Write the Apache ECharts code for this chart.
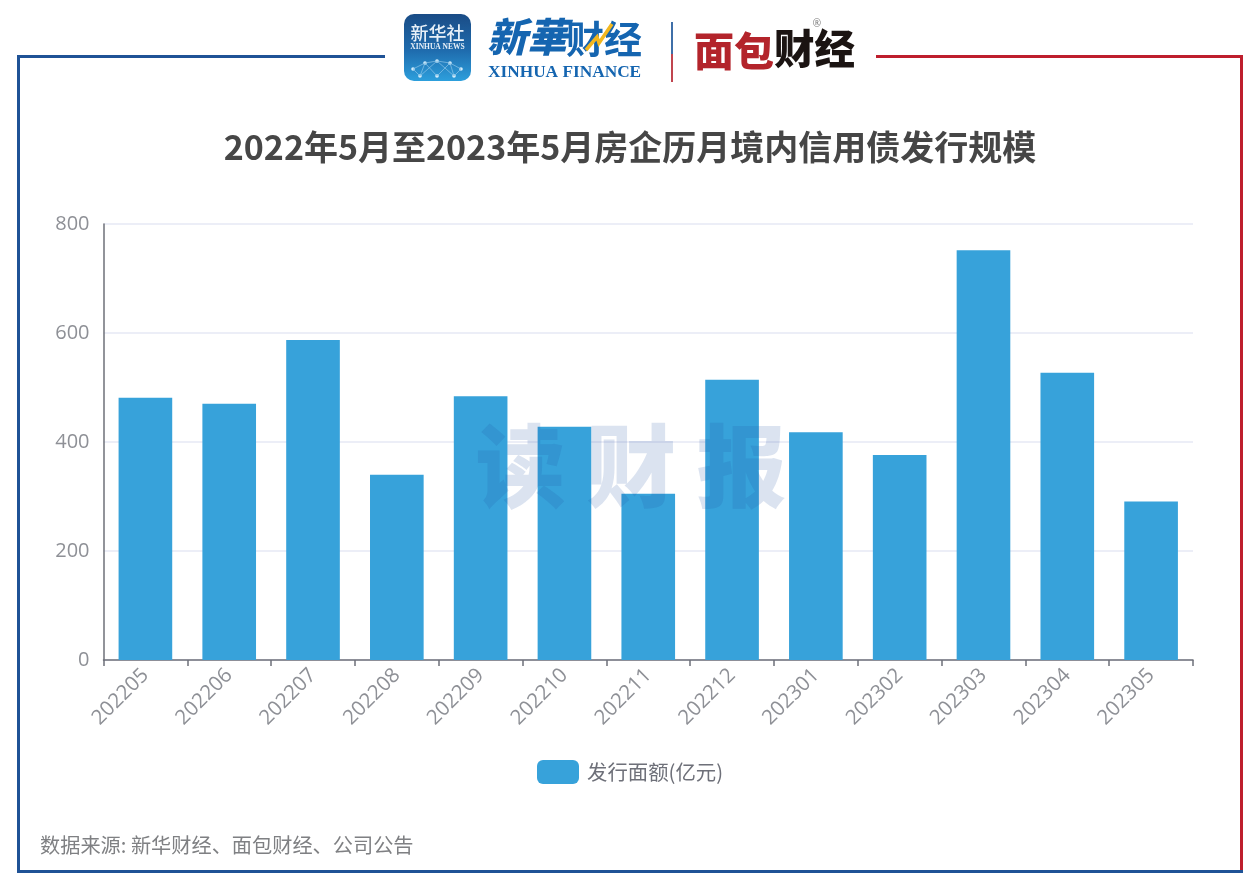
<!DOCTYPE html>
<html><head><meta charset="utf-8">
<style>html,body{margin:0;padding:0;background:#fff}#c{width:1260px;height:891px}</style>
<script src="https://cdn.jsdelivr.net/npm/echarts@6/dist/echarts.min.js"></script>
</head><body><div id="c"></div>
<script>
const categories = ['202205','202206','202207','202208','202209','202210','202211','202212','202301','202302','202303','202304','202305'];
const issueValues = [481,470,587,340,484,428,305,514,418,376,752,527,291];
const valueTicks = [0,200,400,600,800];
const seriesName = '发行面额(亿元)';
const titleText = '2022年5月至2023年5月房企历月境内信用债发行规模';
const sourceText = '数据来源: 新华财经、面包财经、公司公告';
const cjk = '"Noto Sans CJK SC","Noto Sans",sans-serif';
const latin = '"Open Sans","Noto Sans CJK SC",sans-serif';
const BLUE = '#1f5296', RED = '#be1e2d';
const bar = (x,y,w,h,fill,z) => ({type:'rect',shape:{x,y,width:w,height:h},style:{fill},z:z||1,silent:true});
const txt = (x,y,text,font,fill,extra) => ({type:'text',x,y,z:5,silent:true,style:Object.assign({text,font,fill,textVerticalAlign:'middle'},extra||{})});
const nodes = [[413,69],[425,63],[437,61],[450,63],[461,69],[420,76],[437,76],[454,76]];
const graphics = [
  bar(17,55,368,3,BLUE), bar(17,55,3,818,BLUE), bar(17,870,1226,3,BLUE),
  bar(876,55,367,3,RED), bar(1240,55,3,815,RED),
  {type:'rect',z:3,silent:true,shape:{x:404,y:14,width:67,height:67,r:10},
   style:{fill:{type:'linear',x:0,y:0,x2:0,y2:1,colorStops:[{offset:0,color:'#1a4c86'},{offset:.55,color:'#1f6cae'},{offset:1,color:'#2d9fdc'}]}}},
  txt(437.5,33,'新华社','500 18px '+cjk,'#e8f0f8',{textAlign:'center'}),
  txt(437.5,47,'XINHUA NEWS','700 7.5px "Liberation Serif",serif','#e8f0f8',{textAlign:'center'}),
  ...nodes.map(p=>({type:'circle',z:4,silent:true,shape:{cx:p[0],cy:p[1],r:1.8},style:{fill:'#d5ecfa'}})),
  {type:'polyline',z:4,silent:true,shape:{points:nodes.slice(0,5)},style:{stroke:'#8cc4e8',lineWidth:.7,fill:null}},
  {type:'polyline',z:4,silent:true,shape:{points:[nodes[0],nodes[5],nodes[1],nodes[6],nodes[3],nodes[7],nodes[4]]},style:{stroke:'#8cc4e8',lineWidth:.7,fill:null}},
  {type:'polyline',z:4,silent:true,shape:{points:[nodes[5],nodes[2],nodes[7]]},style:{stroke:'#8cc4e8',lineWidth:.7,fill:null}},
  txt(487,37,'新華','italic 900 40px '+cjk,'#1565b0'),
  txt(566,39,'财经','700 38px '+cjk,'#1565b0'),
  {type:'polyline',z:6,silent:true,shape:{points:[[586,50],[597,37],[599,43],[612,24]]},style:{stroke:'#f2b71f',lineWidth:3.5,fill:null}},
  txt(488,73,'XINHUA FINANCE','700 17.3px "Liberation Serif",serif','#1565b0'),
  bar(671,22,2,32,'#3f6fa8'), bar(671,54,2,28,'#c0454f'),
  txt(694,51,'面包','900 40px '+cjk,'#b3242b'),
  txt(774,49,'财经','900 40.5px '+cjk,'#1b1412'),
  txt(817,24,'®','400 10px '+latin,'#777',{textAlign:'center'}),
  txt(631,466,'读 财 报','900 90px '+cjk,'rgba(31,82,160,0.16)',{textAlign:'center'}),
  txt(40,845,sourceText,'400 20.2px '+cjk,'#7f8083')
];
const chart = echarts.init(document.getElementById('c'),null,{renderer:'canvas'});
chart.setOption({
  animation:false,
  backgroundColor:'#fff',
  title:{text:titleText,left:'center',top:125,itemGap:0,
    textStyle:{fontFamily:cjk,fontSize:34,fontWeight:700,color:'#464646'}},
  legend:{data:[seriesName],left:532,top:755,itemWidth:42,itemHeight:24,itemGap:8,
    textStyle:{fontFamily:cjk,fontSize:20.4,color:'#6e7079',padding:[0,0,2,3]}},
  grid:{left:103.5,right:67,top:224,height:436},
  xAxis:{type:'category',data:categories,
    axisTick:{show:true,length:6,lineStyle:{color:'#6e7079',width:1.5},alignWithLabel:false},
    axisLine:{lineStyle:{color:'#6e7079',width:1.5}},
    axisLabel:{rotate:45,interval:0,fontFamily:latin,fontSize:20.5,color:'#8e9096',margin:12}},
  yAxis:{type:'value',min:valueTicks[0],max:valueTicks[valueTicks.length-1],interval:200,
    axisLine:{show:true,lineStyle:{color:'#6e7079',width:1.5}},
    axisTick:{show:false},
    splitLine:{lineStyle:{color:'#e6e9f5',width:1.5}},
    axisLabel:{fontFamily:latin,fontSize:20,color:'#8e9096',margin:14,padding:[0,0,2,0]}},
  series:[{name:seriesName,type:'bar',data:issueValues,barWidth:'64%',
    itemStyle:{color:'#37a2da'},z:2}],
  graphic:{elements:graphics}
});
</script></body></html>
